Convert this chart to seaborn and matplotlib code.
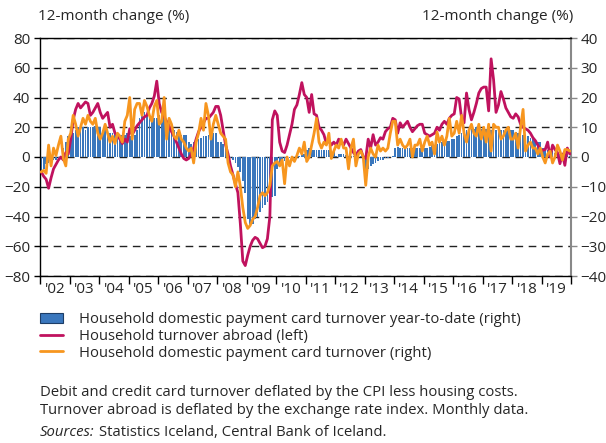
import matplotlib
matplotlib.use("Agg")
import matplotlib.pyplot as plt
import seaborn as sns
import pandas as pd
from matplotlib.patches import Patch
from matplotlib.lines import Line2D

years = list(range(2002, 2020))
year_labels = ["'02", "'03", "'04", "'05", "'06", "'07", "'08", "'09", "'10",
               "'11", "'12", "'13", "'14", "'15", "'16", "'17", "'18", "'19"]

# Household domestic payment card turnover year-to-date (right axis, %)
ytd = [
    -4.5, -4, -2.5, -2, -1.5, -1, -1, -0.5, 0, 3, 5, 7,
    7, 8, 9, 10, 9.5, 10, 9, 10, 10, 10, 10.5, 10,
    10, 9, 9.5, 8, 8, 8, 8, 7.5, 7.5, 7.5, 7.5, 8,
    7, 7, 7.5, 9, 13, 14, 15, 14.5, 14, 13.5, 13, 13,
    14, 13.5, 13, 12, 11, 10, 9, 8.5, 8, 7.5, 7.5, 7.5,
    5, 4.5, 5, 6, 6, 6.5, 7, 7, 7.5, 7.5, 8, 8,
    5, 5, 4.5, 3, 1, -0.5, -1, -2, -3.5, -5, -8, -12,
    -21, -23, -22.5, -21, -20, -18.5, -17, -16, -15, -14, -13.5, -13,
    -4, -2.5, -2, -1.5, -1, -0.5, -0.3, 0, 0.2, 0.5, 0.8, 1,
    2.5, 3, 2.5, 2.5, 2.5, 2.5, 2.5, 2.5, 2.5, 2.5, 2, 2,
    0.5, 1, 1, 1, 0.8, 0.5, 0.5, 0.5, 0.5, 0.5, 0.3, 0.2,
    -6, -4, -3, -2.5, -2, -1.5, -1, -1, -0.5, -0.5, 0, 0.5,
    3, 3.5, 3, 3, 3, 3, 3, 3, 3, 3, 3, 3,
    3, 3, 3.5, 4, 4, 4.5, 5, 5, 5, 5.5, 5.5, 6,
    6, 7, 7.5, 8, 8.5, 9, 9.5, 9.5, 9.5, 10, 10, 9.5,
    10, 9.5, 9.5, 9, 9, 9, 9, 9, 9, 9, 9, 9,
    9, 8.5, 8, 8, 7.5, 7.5, 7, 6.5, 6, 5.5, 5, 5,
    3, 3, 2.5, 2, 2, 1.5, 1.5, 1, 1, 1, 1, 0.5,
]

# Household turnover abroad (left axis, %)
abroad = [
    -10, -13, -15, -21, -14, -8, -5, -2, 0, -2, 3, 2,
    12, 25, 32, 36, 33, 35, 37, 36, 28, 30, 33, 36,
    30, 26, 28, 30, 20, 22, 16, 14, 12, 9, 12, 10,
    19, 15, 18, 21, 23, 25, 27, 28, 33, 36, 41, 51,
    36, 30, 27, 24, 21, 17, 14, 10, 6, 2, -1, -2,
    -1, 2, 6, 12, 17, 20, 23, 26, 26, 28, 30, 34,
    34, 28, 18, 8, 2, -6, -12, -18, -24, -45, -70, -73,
    -66, -60, -56, -54, -55, -58, -61, -60, -55, -40, 25, 31,
    28, 10, 4, 3, 8, 15, 22, 32, 35, 42, 50, 42,
    40, 30, 42, 29, 28, 20, 18, 15, 9, 11, 8, 10,
    8, 12, 10, 8, 12, 9, 6, 3, 1, 4, 5, 0,
    -1, 12, 6, 15, 8, 10, 13, 12, 17, 19, 20, 26,
    25, 16, 23, 20, 22, 24, 20, 17, 19, 21, 22, 22,
    16, 15, 14, 15, 16, 20, 18, 22, 24, 22, 26, 28,
    29, 40, 39, 26, 23, 43, 32, 25, 30, 36, 43, 46,
    47, 47, 31, 66, 52, 30, 35, 44, 39, 33, 30, 27,
    26, 29, 27, 22, 20, 19, 18, 16, 13, 11, 8, 5,
    4.5, 5, 10, 0, 8, 5, 3, -4.5, 2, -5.6, 6, 2,
]

# Household domestic payment card turnover (right axis, %)
domestic = [
    -5, -4.5, -5.5, 4, -3, 3, 0.5, 4, 7, -0.5, -3, 6,
    8, 14, 11, 7, 10, 13, 11, 14, 12, 11, 13, 8,
    6, 8, 11, 8, 5, 7, 4.5, 8, 7, 5, 12, 14,
    20, 6, 16, 18, 18, 14, 19, 17, 14, 12, 17, 19,
    11, 12, 20, 6, 13, 11, 7, 6, 9, 6, 5, 3,
    2, 3, -2, 5, 8, 13, 9, 18, 14, 6, 11, 14,
    11, 8, 7, 6, -2, -5, -6, -10, -5, -10, -17, -22,
    -24, -23, -21, -20, -17, -13, -12, -13, -12, -9.5, -3, -2,
    -1.5, -3, -1, -9, 0, -3, 0, -1.5, 0.5, 3, 1, 5,
    -1.5, 0, 4, 8, 13, 5, 3, 5, 4, 8, -0.5, 2,
    4, 3, 6, 3, 3, -4, 3, 6, -3, 1, 2, 0,
    -9.5, 0, 3, 1, 0, 4, 2, 3, 2, 3, 8, 12,
    12, 4, 6, 4, 3, 4, 6, 0, 4, 4, 6, 2,
    5, 7, 4, 5, 1, 8.4, 5, 7, 4, 7, 13, 7,
    8, 12, 8, 14, 8, 5, 9, 11, 8, 7, 11, 6,
    10, 5, 11, 2, 11, 10, 10, 6, 7, 9, 10, 6,
    6, 8, 3, 10, 16, 2, 4, 5, 3, 3, 1, 3,
    0, -2, 1, 2, -2, 0, 4, 2, -1, 2.5, 2.5, 2,
]

t = [y + (m + 0.5) / 12 for y in years for m in range(12)]
df = pd.DataFrame({"t": t, "ytd": ytd, "abroad": abroad, "domestic": domestic})

BLUE = "#3a77bd"
MAGENTA = "#c0125e"
ORANGE = "#f7961f"
FS = 11
FT = 10.7

sns.set_style("white")
plt.rcParams["font.family"] = ["Open Sans", "DejaVu Sans"]
plt.rcParams["font.size"] = FS

fig = plt.figure(figsize=(6.06, 4.43), dpi=100)
ax = fig.add_axes([40 / 606, 1 - 276 / 443, 531 / 606, 238 / 443])
axm = ax.twinx()
axo = ax.twinx()

# bars (right scale)
sns.barplot(data=df, x="t", y="ytd", native_scale=True, width=0.72,
            color=BLUE, saturation=1, errorbar=None, ax=ax, linewidth=0)
sns.lineplot(data=df, x="t", y="abroad", color=MAGENTA, lw=2.0, ax=axm)
sns.lineplot(data=df, x="t", y="domestic", color=ORANGE, lw=2.0, ax=axo)

for a in (ax, axm, axo):
    a.set_xlim(2002, 2020)
    a.set_xlabel("")
    a.set_ylabel("")
ax.set_ylim(-40, 40)
axo.set_ylim(-40, 40)
axm.set_ylim(-80, 80)

# gridlines
ax.set_axisbelow(True)
ax.set_yticks(range(-40, 41, 10))
ax.yaxis.grid(True, linestyle=(0, (5.5, 4)), color="#222222", lw=1)
ax.xaxis.grid(False)

# right axis labels on ax
ax.yaxis.set_ticks_position("right")
ax.tick_params(axis="y", which="both", right=True, left=False, length=4,
               width=1, color="#888888", labelsize=FS, pad=3)
# left axis on magenta axes
axm.yaxis.set_ticks_position("left")
axm.set_yticks(range(-80, 81, 20))
axm.tick_params(axis="y", left=True, right=False, labelleft=True, labelright=False,
                length=4, width=1, color="black", labelsize=FS, pad=3)
axo.set_yticks([])
axo.tick_params(axis="y", left=False, right=False, labelleft=False, labelright=False)

# x axis
ax.set_xticks(range(2002, 2021))
ax.set_xticklabels([])
ax.set_xticks([y + 0.5 for y in years], minor=True)
ax.set_xticklabels(year_labels, minor=True)
ax.tick_params(axis="x", which="major", bottom=True, length=6, width=1,
               direction="out", color="black")
ax.tick_params(axis="x", which="minor", bottom=True, length=0, labelsize=FS, pad=4)

for a in (axm, axo):
    for s in a.spines.values():
        s.set_visible(False)
for side in ("left", "top", "bottom"):
    ax.spines[side].set_visible(True)
    ax.spines[side].set_color("black")
    ax.spines[side].set_linewidth(1)
ax.spines["right"].set_visible(True)
ax.spines["right"].set_color("#888888")
ax.spines["right"].set_linewidth(1.5)

fig.text(38 / 606, 1 - 17 / 443, "12-month change (%)", ha="left", va="center", fontsize=FS)
fig.text(573 / 606, 1 - 17 / 443, "12-month change (%)", ha="right", va="center", fontsize=FS)

handles = [
    Patch(facecolor=BLUE, edgecolor="#1d3d66", linewidth=0.8),
    Line2D([], [], color=MAGENTA, lw=2),
    Line2D([], [], color=ORANGE, lw=2),
]
labels = [
    "Household domestic payment card turnover year-to-date (right)",
    "Household turnover abroad (left)",
    "Household domestic payment card turnover (right)",
]
fig.legend(handles, labels, loc="upper left", bbox_to_anchor=(40 / 606, 1 - 312 / 443),
           frameon=False, fontsize=FT, handlelength=1.55, handleheight=0.7,
           handletextpad=1.05, labelspacing=0.12, borderaxespad=0, borderpad=0)

fig.text(40 / 606, 1 - 393 / 443,
         "Debit and credit card turnover deflated by the CPI less housing costs.",
         ha="left", va="center", fontsize=FT)
fig.text(40 / 606, 1 - 411 / 443,
         "Turnover abroad is deflated by the exchange rate index. Monthly data.",
         ha="left", va="center", fontsize=FT)
t1 = fig.text(40 / 606, 1 - 432 / 443, "Sources:", ha="left", va="center",
              fontsize=FT, style="italic")
fig.canvas.draw()
bb = t1.get_window_extent()
fig.text(bb.x1 / fig.bbox.width + 4 / 606, 1 - 432 / 443,
         "Statistics Iceland, Central Bank of Iceland.", ha="left", va="center", fontsize=FT)

fig.savefig("out.png", dpi=100)
